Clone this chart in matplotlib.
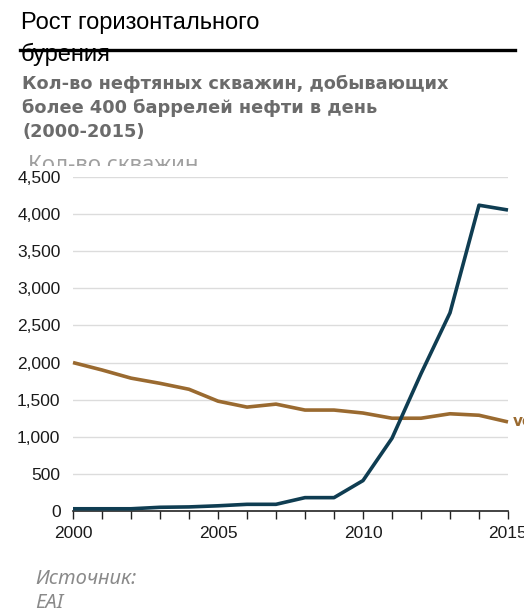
import matplotlib.pyplot as plt
import matplotlib.patches as patches
from matplotlib import font_manager
from matplotlib.ticker import FuncFormatter

years = list(range(2000, 2016))
horizontal = [30, 30, 30, 50, 55, 70, 90, 90, 180, 180, 410, 980, 1850, 2670, 4120, 4055]
vertical = [2000, 1900, 1790, 1720, 1640, 1480, 1400, 1440, 1360, 1360, 1320, 1250, 1250, 1310, 1290, 1200]
yticks = [0, 500, 1000, 1500, 2000, 2500, 3000, 3500, 4000, 4500]
xticks = [2000, 2005, 2010, 2015]

W, H = 524, 614
fig = plt.figure(figsize=(W / 100, H / 100), dpi=100)

def fx(px):
    return px / W

def fy(py):
    return 1 - py / H

# narrow font for tick labels if one is around
names = {f.name for f in font_manager.fontManager.ttflist}
if 'Liberation Sans Narrow' in names:
    tick_font, tick_size = 'Liberation Sans Narrow', 14
elif 'DejaVu Sans Condensed' in names:
    tick_font, tick_size = 'DejaVu Sans Condensed', 12.5
else:
    tick_font, tick_size = 'Liberation Sans', 12.5

# titles
fig.text(fx(21), fy(12), 'Рост горизонтального\nбурения', fontsize=17,
         family='Liberation Sans', color='black', va='top', linespacing=1.5)
fig.add_artist(plt.Line2D([fx(20), fx(515)], [fy(50), fy(50)], color='black', lw=2.4, zorder=3))
fig.text(fx(22), fy(75), 'Кол-во нефтяных скважин, добывающих\nболее 400 баррелей нефти в день\n(2000-2015)',
         fontsize=12.8, family='DejaVu Sans', weight='bold', color='#6b6b6b', va='top', linespacing=1.4)
fig.text(fx(28), fy(155), 'Кол-во скважин', fontsize=16, family='Noto Sans',
         color='#a0a0a0', va='top', zorder=3)
# white cover hiding the bottom of the axis label, as in the original
fig.add_artist(patches.Rectangle((0, fy(555)), 1, fy(166) - fy(555), transform=fig.transFigure,
                                 facecolor='white', edgecolor='none', zorder=4))

ax = fig.add_axes([fx(73), fy(511), fx(508) - fx(73), fy(177) - fy(511)])
ax.set_zorder(5)
ax.patch.set_alpha(0)

ax.plot(years, vertical, color='#9a6a30', lw=2.6, clip_on=False, solid_capstyle='butt', zorder=3)
ax.plot(years, horizontal, color='#0f3d52', lw=2.6, clip_on=False, solid_capstyle='butt', zorder=4)

ax.set_xlim(2000, 2015)
ax.set_ylim(0, 4500)
for y in yticks[1:]:
    ax.axhline(y, color='#dcdcdc', lw=1, zorder=1)

for s in ['top', 'right', 'left']:
    ax.spines[s].set_visible(False)
ax.spines['bottom'].set_color('#222222')
ax.spines['bottom'].set_linewidth(1.2)

ax.set_yticks(yticks)
ax.yaxis.set_major_formatter(FuncFormatter(lambda v, p: f'{int(v):,}'))
ax.tick_params(axis='y', length=0, pad=9, labelsize=tick_size, labelcolor='#1a1a1a')
ax.set_xticks(years, minor=True)
ax.set_xticks(xticks)
ax.tick_params(axis='x', which='both', direction='out', length=6, width=1, color='#222222',
               labelsize=tick_size, labelcolor='#1a1a1a', pad=5)
for lab in ax.get_xticklabels() + ax.get_yticklabels():
    lab.set_family(tick_font)

ax.text(2015.15, vertical[-1], 'vertical', color='#9a6a30', fontsize=11, weight='bold',
        va='center', ha='left', clip_on=False)

fig.text(fx(35), fy(591), 'Источник:\nEAI', fontsize=14.5, family='Noto Sans', style='italic',
         color='#8a8a8a', va='center', linespacing=1.3, zorder=6)

fig.savefig('out.png', dpi=100)
